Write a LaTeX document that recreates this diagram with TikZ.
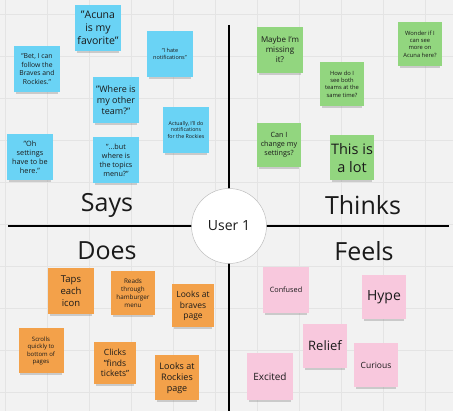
\documentclass[tikz,border=0pt]{standalone}
\usepackage{fontspec}
\setmainfont{Open Sans}
\usepackage{tikz}
\usetikzlibrary{shadows}
\usepackage{xcolor}
\definecolor{SayBlue}{HTML}{6AD3F5}
\definecolor{ThinkGreen}{HTML}{92D67F}
\definecolor{DoOrange}{HTML}{F3A14A}
\definecolor{FeelPink}{HTML}{F8C8DD}
\definecolor{BoardGray}{HTML}{F2F2F2}
\definecolor{GridGray}{HTML}{E4E4E4}
\definecolor{InkBlack}{HTML}{1A1A1A}
\tikzset{%
  sticky/.style={%
    rectangle,%
    minimum width=46pt,%
    minimum height=46pt,%
    inner sep=0pt,%
    align=center,%
    text=InkBlack,%
    font={\fontsize{#1}{1.25\dimexpr#1pt\relax}\selectfont},%
    drop shadow={shadow xshift=0pt, shadow yshift=-4pt, shadow scale=0.92, opacity=0.35},%
  },
  sticky/.default=6,
  says/.style={sticky=#1, fill=SayBlue},
  thinks/.style={sticky=#1, fill=ThinkGreen},
  does/.style={sticky=#1, fill=DoOrange},
  feels/.style={sticky=#1, fill=FeelPink},
  quadrant/.style={%
    font={\fontsize{25}{30}\selectfont},%
    text=InkBlack,%
    inner sep=0pt,%
  },
  axis/.style={%
    draw=black,%
    line width=2pt,%
  },
  persona/.style={%
    circle,%
    minimum size=75pt,%
    fill=white,%
    draw=black!25,%
    line width=0.5pt,%
    font={\fontsize{14}{16}\selectfont},%
    text=InkBlack,%
  },
}
\begin{document}
\begin{tikzpicture}[x=1pt, y=-1pt]
  \useasboundingbox (0,0) rectangle (453,411);
  \fill[BoardGray] (0,0) rectangle (453,411);
  % board grid
  \foreach \gx in {5,47,...,453} {\draw[GridGray, line width=1pt] (\gx,0) -- (\gx,411);}
  \foreach \gy in {15,57,...,411} {\draw[GridGray, line width=1pt] (0,\gy) -- (453,\gy);}

  % axes
  \coordinate (axisW) at (8,226);
  \coordinate (axisE) at (449,226);
  \coordinate (axisN) at (229,25);
  \coordinate (axisS) at (229,411);
  \draw[axis] (axisW) -- (axisE);
  \draw[axis] (axisN) -- (axisS);
  \node[persona] (user) at (229,226) {User 1};

  % quadrant titles
  \node[quadrant] (saysT) at (107,205) {Says};
  \node[quadrant] (thinksT) at (363,205) {Thinks};
  \node[quadrant] (doesT) at (107,251) {Does};
  \node[quadrant] (feelsT) at (364,251) {Feels};

  % says
  \node[says=10.5] (S1) at (98,28) {"Acuna\\is my\\favorite"};
  \node[says=6.8] (S2) at (37,69) {"Bet, I can\\follow the\\Braves and\\Rockies."};
  \node[says=5.5] (S3) at (170,54) {"I hate\\notifications"};
  \node[says=9] (S4) at (116,100) {"Where is\\my other\\team?"};
  \node[says=5.3] (S5) at (186,130) {Actually, I'll do\\notifications\\for the Rockies};
  \node[says=7.3] (S6) at (30,157) {"Oh\\settings\\have to be\\here."};
  \node[says=7.2] (S7) at (116,160) {"...but\\where is\\the topics\\menu?"};

  % thinks
  \node[thinks=8] (T1) at (280,50) {Maybe I'm\\missing\\it?};
  \node[thinks=5.8, minimum width=44pt, minimum height=44pt] (T2) at (342,84) {How do I\\see both\\teams at the\\same time?};
  \node[thinks=5.8, minimum width=44pt, minimum height=44pt] (T3) at (420,44) {Wonder if I\\can see\\more on\\Acuna here?};
  \node[thinks=7.2, minimum width=44pt, minimum height=44pt] (T4) at (279,145) {Can I\\change my\\settings?};
  \node[thinks=14.5, minimum width=44pt, minimum height=45pt] (T5) at (352,158) {This is\\a lot};

  % does
  \node[does=9.5] (D1) at (71,291) {Taps\\each\\icon};
  \node[does=6.3, minimum width=44pt, minimum height=44pt] (D2) at (133,293) {Reads\\through\\hamburger\\menu};
  \node[does=8.5, minimum width=42pt, minimum height=43pt] (D3) at (193,306) {Looks at\\braves\\page};
  \node[does=6, minimum width=45pt, minimum height=45pt] (D4) at (41,351) {Scrolls\\quickly to\\bottom of\\pages};
  \node[does=8.5, minimum width=42pt, minimum height=42pt] (D5) at (115,363) {Clicks\\"finds\\tickets"};
  \node[does=9, minimum width=44pt, minimum height=45pt] (D6) at (177,378) {Looks at\\Rockies\\page};

  % feels
  \node[feels=7.3] (F1) at (286,290) {Confused};
  \node[feels=14, minimum width=44pt, minimum height=44pt] (F2) at (384,297) {Hype};
  \node[feels=13, minimum width=44pt, minimum height=44pt] (F3) at (325,346) {Relief};
  \node[feels=8.5, minimum width=44pt, minimum height=44pt] (F4) at (376,365) {Curious};
  \node[feels=10, minimum height=47pt] (F5) at (270,377) {Excited};
\end{tikzpicture}
\end{document}
